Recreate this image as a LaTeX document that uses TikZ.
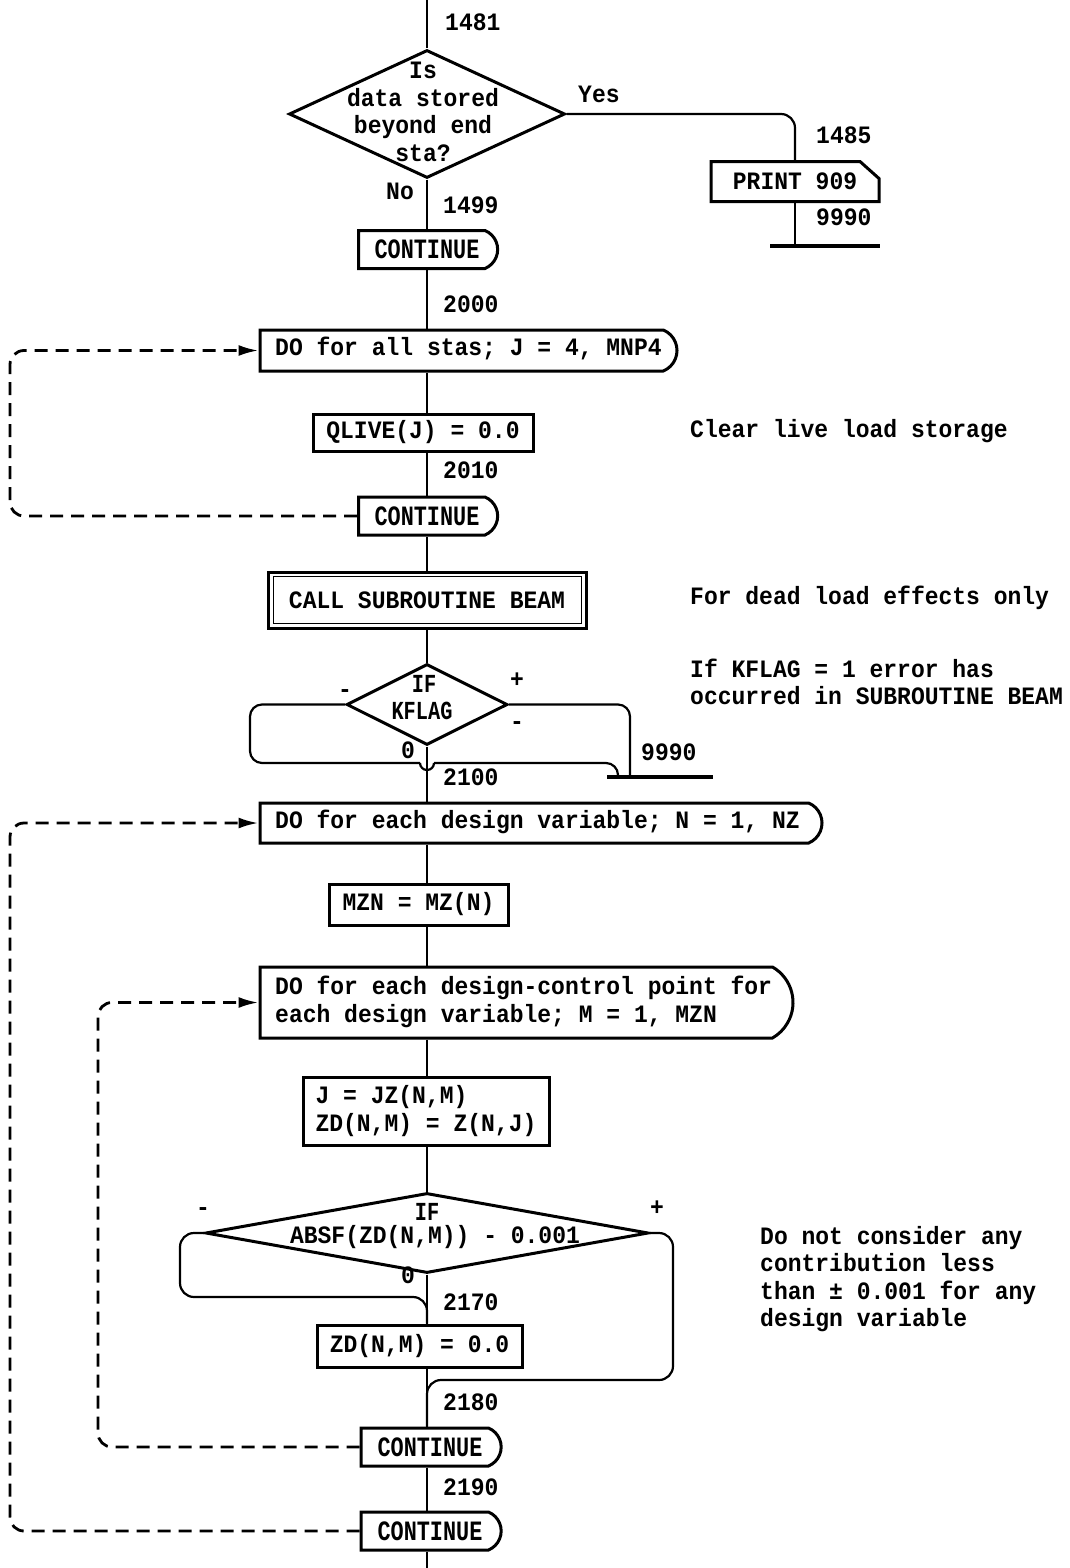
\documentclass[tikz,border=0pt]{standalone}
\usepackage{fontspec}
\setmainfont{Liberation Mono}
\newfontfamily\twfont[FakeStretch=0.92]{Liberation Mono Bold}
\newfontfamily\condfont[FakeStretch=0.78]{Liberation Mono Bold}
\usetikzlibrary{shapes.geometric,shapes.misc,arrows.meta}

\tikzset{
  flow/.style={line width=2.2pt},
  bar/.style={line width=3.2pt},
  box/.style={draw, rectangle, line width=3pt, inner sep=0pt,
    font=\twfont\fontsize{25}{27.5}\selectfont},
  term/.style={draw, rounded rectangle, rounded rectangle left arc=none,
    rounded rectangle arc length=135, line width=3pt, inner sep=0pt},
  cont/.style={term, minimum width=139pt, minimum height=38pt,
    font=\condfont\fontsize{28}{30}\selectfont},
  dec/.style={draw, diamond, line width=3pt, inner sep=0pt},
  lbl/.style={inner sep=0pt, font=\twfont\fontsize{25}{27.5}\selectfont,
    text height=15pt, text depth=4pt},
  mlbl/.style={inner sep=0pt, font=\twfont\fontsize{25}{27.5}\selectfont},
  clbl/.style={inner sep=0pt, font=\condfont\fontsize{26}{28}\selectfont},
  back/.style={line width=2.8pt, dash pattern=on 13pt off 8pt,
    rounded corners=14pt, -{Latex[length=20pt,width=11pt]}},
}

\begin{document}
\begin{tikzpicture}[x=1pt,y=-1pt]
\useasboundingbox (0,0) rectangle (1069,1568);

% reference lines
\coordinate (ax) at (427,0);
\coordinate (lx) at (10,0);
\coordinate (ix) at (98,0);
\coordinate (top) at (427,0);
\coordinate (bot) at (427,1568);

% ---- storage check
\node[dec, minimum width=276pt, minimum height=128pt] (d1) at (427,114) {};
\node[mlbl, align=center] (d1t) at (423,112) {Is\\data stored\\beyond end\\sta?};
\node[lbl, anchor=west] (n1481) at (445,25) {1481};
\node[lbl, anchor=west] (yes) at (578,97) {Yes};
\node[lbl, anchor=west] (no) at (386,194) {No};
\node[lbl, anchor=west] (n1499) at (443,208) {1499};

\node[box, draw=none, minimum width=165pt, minimum height=37pt] (p1) at (795,181.5) {PRINT 909};
\draw[line width=3pt] (p1.north west) -- ([xshift=-19pt]p1.north east)
  -- ([yshift=-17pt]p1.north east) -- (p1.south east) -- (p1.south west) -- cycle;
\node[lbl, anchor=west] (n1485) at (816,138) {1485};
\node[lbl, anchor=west] (n9990a) at (816,220) {9990};
\coordinate (b1l) at (770,246);
\coordinate (b1r) at (880,246);

\node[cont] (c1) at (427,249.5) {CONTINUE};

% ---- clear live load
\node[lbl, anchor=west] (n2000) at (443,307) {2000};
\node[term, minimum width=417pt, minimum height=41pt] (do1) at (468.5,350.5) {};
\node[lbl, anchor=west] (do1t) at (275,350) {DO for all stas; J = 4, MNP4};
\node[box, minimum width=220pt, minimum height=37pt] (q) at (423,432.5) {QLIVE(J) = 0.0};
\node[lbl, anchor=west] (cmt1) at (690,432) {Clear live load storage};
\node[lbl, anchor=west] (n2010) at (443,473) {2010};
\node[cont] (c2) at (427,516) {CONTINUE};

% ---- dead load
\node[box, minimum width=318pt, minimum height=56pt] (call) at (427,600) {CALL SUBROUTINE BEAM};
\draw[line width=1.8pt] ([shift={(7pt,-6pt)}]call.north west) rectangle ([shift={(-6pt,6pt)}]call.south east);
\node[lbl, anchor=west] (cmt2) at (690,599) {For dead load effects only};

\node[dec, minimum width=161pt, minimum height=81pt] (d2) at (427,704.5) {};
\node[clbl] (d2a) at (424,684) {IF};
\node[clbl] (d2b) at (422,711) {KFLAG};
\node[mlbl, align=left, anchor=west] (cmt3) at (690,682) {If KFLAG = 1 error has\\occurred in SUBROUTINE BEAM};
\node[lbl] (d2m1) at (345,692) {-};
\node[lbl] (d2p) at (517,682) {+};
\node[lbl] (d2m2) at (517,724) {-};
\node[lbl] (d2z) at (408,753) {0};
\node[lbl, anchor=west] (n9990b) at (641,755) {9990};
\node[lbl, anchor=west] (n2100) at (443,780) {2100};
\coordinate (k1) at (250,763);
\coordinate (h1) at (420,763);
\coordinate (h2) at (434,763);
\coordinate (k2) at (618,763);
\coordinate (b2x) at (630,0);
\coordinate (b2l) at (607,777);
\coordinate (b2r) at (713,777);

% ---- design variables
\node[term, minimum width=562pt, minimum height=40pt] (do2) at (541,823) {};
\node[lbl, anchor=west] (do2t) at (275,823) {DO for each design variable; N = 1, NZ};
\node[box, minimum width=179pt, minimum height=41pt] (mzn) at (418.5,904.5) {MZN = MZ(N)};
\node[term, rounded rectangle arc length=120, minimum width=533pt, minimum height=71pt] (do3) at (526.5,1002.5) {};
\node[mlbl, align=left, anchor=west] (do3t) at (275,1002) {DO for each design-control point for\\each design variable; M = 1, MZN};
\node[box, align=left, minimum width=246pt, minimum height=68pt] (jz) at (426,1111) {J = JZ(N,M)\\ZD(N,M) = Z(N,J)};

\node[dec, minimum width=443pt, minimum height=80pt] (d3) at (427,1233) {};
\node[clbl] (d3a) at (427,1212) {IF};
\node[lbl] (d3b) at (435,1238) {ABSF(ZD(N,M)) - 0.001};
\node[lbl] (d3m) at (203,1210) {-};
\node[lbl] (d3p) at (657,1210) {+};
\node[lbl] (d3z) at (408,1278) {0};
\node[mlbl, align=left, anchor=west] (cmt4) at (760,1279) {Do not consider any\\contribution less\\than ± 0.001 for any\\design variable};
\coordinate (m1) at (180,1297);
\coordinate (m2) at (673,1380);

\node[lbl, anchor=west] (n2170) at (443,1305) {2170};
\node[box, minimum width=205pt, minimum height=42pt] (zd) at (419.5,1346) {ZD(N,M) = 0.0};
\node[lbl, anchor=west] (n2180) at (443,1405) {2180};
\node[cont, minimum width=140pt] (c3) at (430,1447) {CONTINUE};
\node[lbl, anchor=west] (n2190) at (443,1490) {2190};
\node[cont, minimum width=140pt] (c4) at (430,1531) {CONTINUE};

% ---- main flow line
\draw[flow] (top) -- (d1.north);
\draw[flow] (d1.south) -- (c1.north -| ax);
\draw[flow] (c1.south -| ax) -- (do1.north -| ax);
\draw[flow] (do1.south -| ax) -- (q.north -| ax);
\draw[flow] (q.south -| ax) -- (c2.north -| ax);
\draw[flow] (c2.south -| ax) -- (call.north);
\draw[flow] (call.south) -- (d2.north);
\draw[flow] (d2.south) -- (do2.north -| ax);
\draw[flow] (do2.south -| ax) -- (mzn.north -| ax);
\draw[flow] (mzn.south -| ax) -- (do3.north -| ax);
\draw[flow] (do3.south -| ax) -- (jz.north -| ax);
\draw[flow] (jz.south -| ax) -- (d3.north);
\draw[flow] (d3.south) -- (zd.north -| ax);
\draw[flow] (zd.south -| ax) -- (c3.north -| ax);
\draw[flow] (c3.south -| ax) -- (c4.north -| ax);
\draw[flow] (c4.south -| ax) -- (bot);

% ---- branches
\draw[flow, rounded corners=14pt] (d1.east) -- (d1.east -| p1.north) -- (p1.north);
\draw[flow] (p1.south) -- (p1.south |- b1l);
\draw[bar] (b1l) -- (b1r);

\draw[flow, rounded corners=12pt] (d2.west) -- (d2.west -| k1) -- (k1) -- (h1);
\draw[flow] (h1) arc[start angle=180, end angle=360, radius=7pt];
\draw[flow, rounded corners=12pt] (h2) -- (k2) -- (k2 |- b2l);
\draw[flow, rounded corners=12pt] (d2.east) -- (d2.east -| b2x) -- (b2x |- b2l);
\draw[bar] (b2l) -- (b2r);

\draw[flow, rounded corners=14pt] (d3.west) -- (d3.west -| m1) -- (m1) -- (m1 -| ax) -- (zd.north -| ax);
\draw[flow, rounded corners=14pt] (d3.east) -- (d3.east -| m2) -- (m2) -- (m2 -| ax) -- (c3.north -| ax);

% ---- DO loops
\draw[back] (c2.west) -- (c2.west -| lx) -- (do1.west -| lx) -- (do1.west);
\draw[back] (c4.west) -- (c4.west -| lx) -- (do2.west -| lx) -- (do2.west);
\draw[back] (c3.west) -- (c3.west -| ix) -- (do3.west -| ix) -- (do3.west);
\end{tikzpicture}
\end{document}
